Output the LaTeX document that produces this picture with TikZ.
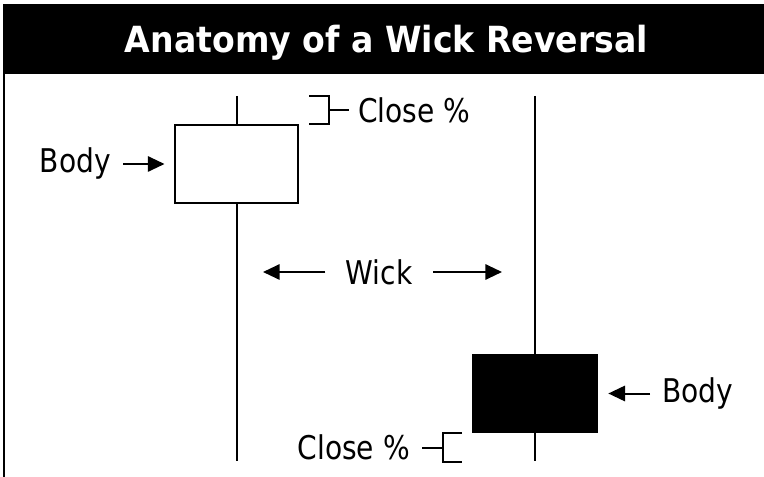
\documentclass[tikz,border=0pt]{standalone}
\usepackage{fontspec}
\setmainfont[FakeStretch=0.86]{DejaVu Sans}
\newfontfamily\titlefont[FakeStretch=0.92]{DejaVu Sans}
\usetikzlibrary{arrows.meta}
\tikzset{
  lbl/.style={inner sep=0pt, font=\fontsize{24.5}{28}\selectfont},
  arr/.style={line width=1.5pt, -{Triangle[length=12.5pt,width=11.5pt]}},
  stick/.style={line width=1.5pt},
  candlebody/.style={draw, line width=1.5pt, minimum width=92.5pt, minimum height=58pt, inner sep=0pt}
}
\begin{document}
\begin{tikzpicture}[x=0.75pt,y=-0.75pt]
\useasboundingbox (0,0) rectangle (764,477);
% frame and title
\fill[black] (3,4) rectangle (764,74);
\path[draw,stick] (3.5,74) -- (3.5,477);
\node[anchor=base, text=white, font=\titlefont\bfseries\fontsize{27}{32}\selectfont] (title) at (386.5,53) {Anatomy of a Wick Reversal};

% candles
\node[candlebody, fill=white] (lbody) at (236.5,164) {};
\node[candlebody, fill=black] (rbody) at (535,393.5) {};
\coordinate (ltop) at (236.5,96);
\coordinate (lbot) at (236.5,461);
\coordinate (rtop) at (535,96);
\coordinate (rbot) at (535,461);
\path[draw,stick] (ltop) -- (lbody.north);
\path[draw,stick] (lbody.south) -- (lbot);
\path[draw,stick] (rtop) -- (rbody.north);
\path[draw,stick] (rbody.south) -- (rbot);

% body labels
\node[lbl, anchor=base east] (lbodylbl) at (111,173) {Body};
\node[lbl, anchor=base west] (rbodylbl) at (662,402) {Body};
\draw[arr, shorten <=9pt, shorten >=7pt] (lbodylbl.east |- lbody.west) -- (lbody.west);
\draw[arr, shorten <=9pt, shorten >=8pt] (rbodylbl.west |- rbody.east) -- (rbody.east);

% wick label
\node[lbl, anchor=base] (wicklbl) at (379,285) {Wick};
\coordinate (wl) at (263,272);
\coordinate (wr) at (502,272);
\draw[arr, shorten <=15pt] (wicklbl.west |- wl) -- (wl);
\draw[arr, shorten <=15.5pt] (wicklbl.east |- wr) -- (wr);

% close brackets
\node[lbl, anchor=base west] (tclose) at (358,123) {Close \%};
\coordinate (tbr) at (329,110);
\path[draw,stick] (309,96) -- (329,96) -- (329,124) -- (309,124);
\path[draw,stick,shorten >=6.5pt] (tbr) -- (tclose.west |- tbr);
\node[lbl, anchor=base east] (bclose) at (410,459) {Close \%};
\coordinate (bbr) at (443,448);
\path[draw,stick] (462,433) -- (443,433) -- (443,462) -- (462,462);
\path[draw,stick,shorten >=9pt] (bbr) -- (bclose.east |- bbr);
\end{tikzpicture}
\end{document}
